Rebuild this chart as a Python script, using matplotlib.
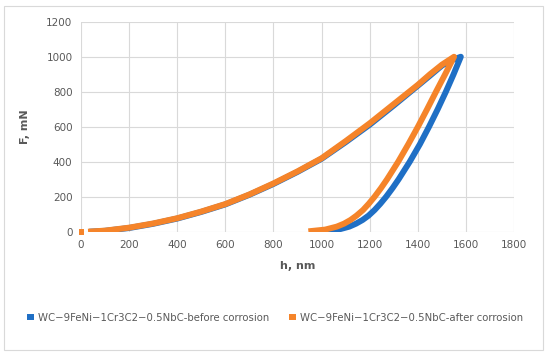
import numpy as np
import matplotlib.pyplot as plt
from matplotlib.patches import Rectangle

# loading branch (h in nm, F in mN)
h_load_before = [35, 100, 200, 300, 400, 500, 600, 700, 800, 900, 1000, 1100, 1200, 1300, 1400, 1450, 1500, 1540, 1578]
f_load_before = [0, 5, 21, 45, 75, 113, 156, 211, 273, 342, 417, 512, 612, 722, 835, 892, 950, 980, 1000]
h_load_after = [30, 100, 200, 300, 400, 500, 600, 700, 800, 900, 1000, 1100, 1200, 1300, 1400, 1450, 1500, 1550]
f_load_after = [0, 6, 23, 47, 77, 115, 158, 213, 276, 345, 420, 518, 620, 730, 840, 900, 955, 1000]

# unloading branch
h_unload_before = [1578, 1548, 1516, 1482, 1446, 1408, 1366, 1320, 1295, 1268, 1244, 1220, 1195, 1170, 1143, 1115,
                   1075, 1021]
f_unload_before = [1000, 900, 800, 700, 600, 500, 400, 300, 250, 200, 160, 124, 92, 67, 46, 29, 14, 2]
h_unload_after = [1550, 1513, 1475, 1438, 1400, 1360, 1318, 1272, 1247, 1220, 1196, 1172, 1145, 1120, 1093, 1063,
                  1015, 945]
f_unload_after = [1000, 900, 800, 700, 600, 500, 400, 300, 250, 200, 160, 124, 92, 67, 46, 29, 12, 2]

# stray points at the origin
h_start = [-8, 14]
f_start = [0, 0]

blue = '#1f6fc5'
orange = '#f5842a'
grey = '#595959'

fig = plt.figure(figsize=(5.5, 3.57), dpi=100)
ax = fig.add_axes([0.147, 0.351, 0.788, 0.588])

lw = 4.3
ax.plot(h_load_before + h_unload_before, f_load_before + f_unload_before, color=blue, lw=lw,
        solid_capstyle='butt', solid_joinstyle='round',
        label='WC\u22129FeNi\u22121Cr3C2\u22120.5NbC-before corrosion')
ax.plot(h_load_after + h_unload_after, f_load_after + f_unload_after, color=orange, lw=lw,
        solid_capstyle='butt', solid_joinstyle='round',
        label='WC\u22129FeNi\u22121Cr3C2\u22120.5NbC-after corrosion')
ax.plot(h_start, f_start, color=orange, lw=lw, solid_capstyle='butt', clip_on=False)

ax.set_xlim(0, 1800)
ax.set_ylim(0, 1200)
ax.set_xticks(np.arange(0, 1801, 200))
ax.set_yticks(np.arange(0, 1201, 200))
ax.grid(True, color='#d9d9d9', lw=0.8)
ax.set_axisbelow(True)
for s in ax.spines.values():
    s.set_visible(False)
ax.tick_params(length=0, colors=grey, labelsize=7.5, pad=6)
ax.set_xlabel('h, nm', color=grey, fontsize=8, fontweight='bold', labelpad=8)
ax.set_ylabel('F, mN', color=grey, fontsize=8, fontweight='bold', labelpad=12)

leg = fig.legend(loc='center', bbox_to_anchor=(0.5, 1 - 318 / 357), ncol=2, frameon=False,
                 fontsize=7.3, handlelength=0.7, columnspacing=2.0, handletextpad=0.4)
for t in leg.get_texts():
    t.set_color(grey)

fig.patches.append(Rectangle((4 / 550, 1 - 350 / 357), 539 / 550, 344 / 357,
                             transform=fig.transFigure, fill=False, ec='#d9d9d9', lw=0.8))

fig.savefig('out.png', dpi=100)
